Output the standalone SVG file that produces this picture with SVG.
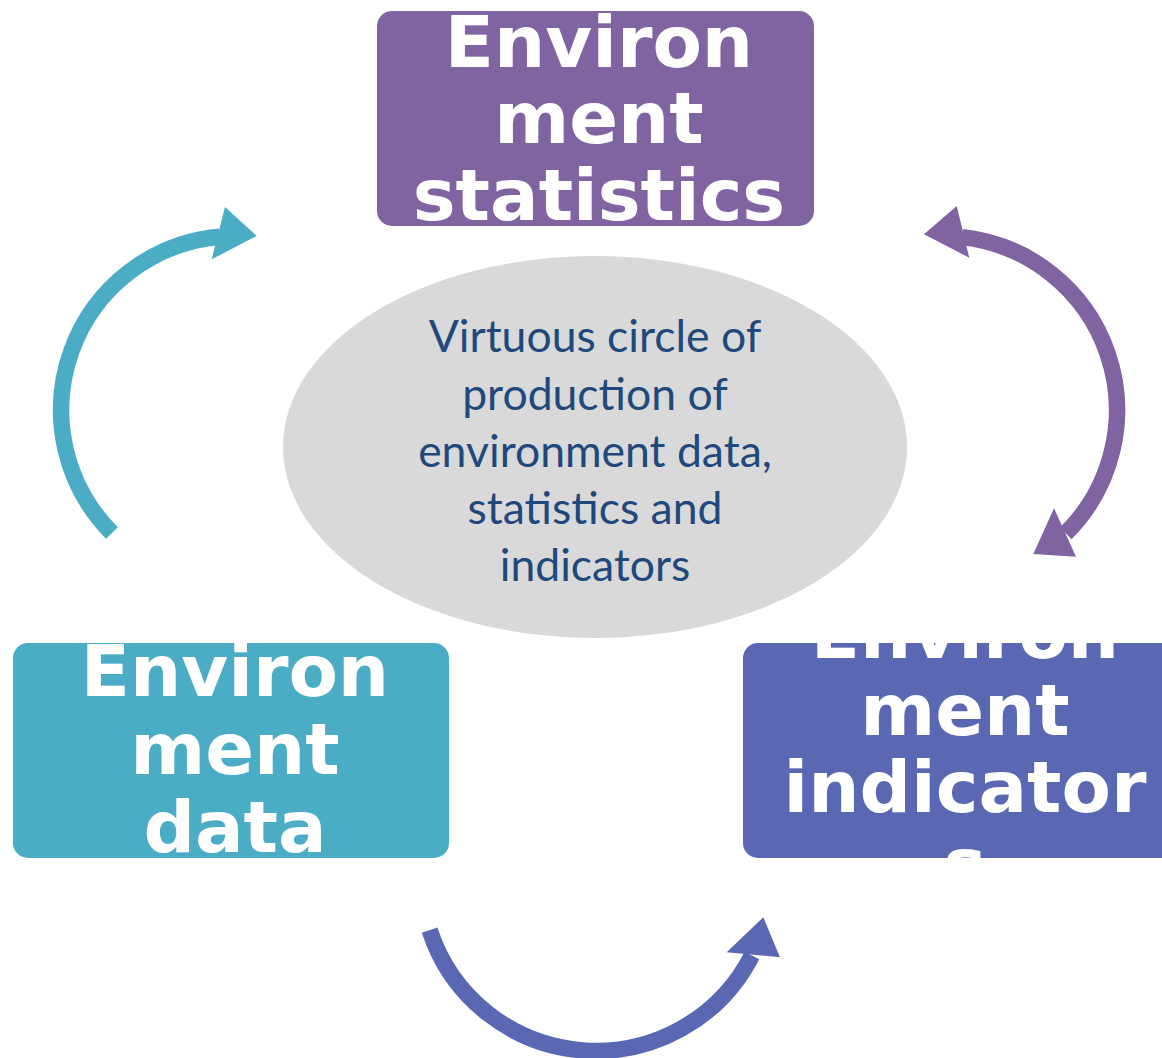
<svg xmlns="http://www.w3.org/2000/svg" width="1162" height="1058" viewBox="0 0 1162 1058">
<style>
.box-text{font-family:"DejaVu Sans",sans-serif;font-weight:bold;font-size:72px;fill:#ffffff;text-anchor:middle}
.center-text{font-family:Lato,"Open Sans",sans-serif;font-size:44.5px;fill:#1f497d;text-anchor:middle}
.arc{fill:none;stroke-width:16.5;stroke-linecap:butt}
</style>
<defs>
<clipPath id="clipStats"><rect x="377" y="11" width="437" height="215" rx="15"/></clipPath>
<clipPath id="clipData"><rect x="13" y="643" width="436" height="215" rx="15"/></clipPath>
<clipPath id="clipInd"><rect x="743" y="643" width="436" height="215" rx="15"/></clipPath>
</defs>
<rect width="1162" height="1058" fill="#ffffff"/>

<g id="center">
<ellipse cx="595" cy="447" rx="312" ry="191" fill="#d9d9d9"/>
<text class="center-text" x="595" y="352">Virtuous circle of</text>
<text class="center-text" x="595" y="410">production of</text>
<text class="center-text" x="595" y="467">environment data,</text>
<text class="center-text" x="595" y="524">statistics and</text>
<text class="center-text" x="595" y="581">indicators</text>
</g>

<g id="node-statistics">
<rect x="377" y="11" width="437" height="215" rx="15" fill="#8064a2"/>
<g clip-path="url(#clipStats)">
<text class="box-text" x="599" y="67">Environ</text>
<text class="box-text" x="599" y="143">ment</text>
<text class="box-text" x="599" y="220">statistics</text>
</g>
</g>

<g id="node-data">
<rect x="13" y="643" width="436" height="215" rx="15" fill="#4bacc6"/>
<g clip-path="url(#clipData)">
<text class="box-text" x="235" y="696">Environ</text>
<text class="box-text" x="235" y="774">ment</text>
<text class="box-text" x="235" y="852">data</text>
</g>
</g>

<g id="node-indicators">
<rect x="743" y="643" width="436" height="215" rx="15" fill="#5a68b3"/>
<g clip-path="url(#clipInd)">
<text class="box-text" x="965" y="658">Environ</text>
<text class="box-text" x="965" y="735">ment</text>
<text class="box-text" x="965" y="812">indicator</text>
<text class="box-text" x="965" y="889">s</text>
</g>
</g>

<g id="connectors">
<path class="arc" stroke="#4bacc6" d="M112,533 A174,174 0 0 1 219.8,236.7"/>
<polygon fill="#4bacc6" points="256.7,236 225,207 211.7,259.3"/>

<path class="arc" stroke="#8064a2" d="M962.4,237.1 A174,174 0 0 1 1065.8,533.3"/>
<polygon fill="#8064a2" points="924,234.3 956.7,206 969.3,257.7"/>
<polygon fill="#8064a2" points="1033.3,554 1054,508.3 1076,556.7"/>

<path class="arc" stroke="#5a68b3" d="M429.6,930.1 A175,175 0 0 0 751.9,955.4"/>
<polygon fill="#5a68b3" points="763.3,917.3 726.7,952.3 780,957.3"/>
</g>
</svg>
